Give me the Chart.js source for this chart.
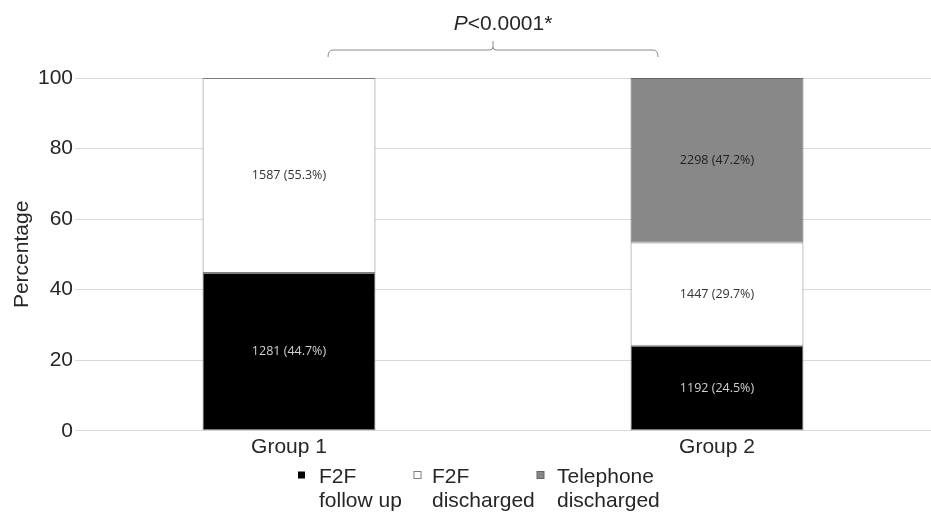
<!DOCTYPE html>
<html>
<head>
<meta charset="utf-8">
<script src="https://cdn.jsdelivr.net/npm/chart.js@4.4.0/dist/chart.umd.min.js"></script>
<style>
  html, body { margin: 0; padding: 0; background: #fff; }
  #wrap { width: 931px; height: 512px; position: relative; }
</style>
</head>
<body>
<div id="wrap"><canvas id="chart"></canvas></div>
<script>
// data
const groups = ['Group 1', 'Group 2'];
const seriesNames = ['F2F follow up', 'F2F discharged', 'Telephone discharged'];
const legendLines = [['F2F', 'follow up'], ['F2F', 'discharged'], ['Telephone', 'discharged']];
const f2fFollowUp = [44.7, 24.1];
const f2fDischarged = [55.3, 29.3];
const telephoneDischarged = [null, 46.6];
const f2fFollowUpLabels = ['1281 (44.7%)', '1192 (24.5%)'];
const f2fDischargedLabels = ['1587 (55.3%)', '1447 (29.7%)'];
const telephoneLabels = ['', '2298 (47.2%)'];
const yTicks = [0, 20, 40, 60, 80, 100];
const pValueItalic = 'P';
const pValueRest = '<0.0001*';

const FONT = "'Liberation Sans', Arial, sans-serif";
const TEXT = '#262626';

const fills = ['#000000', '#ffffff', '#888888'];
const borders = ['#7f7f7f', '#7f7f7f', '#666666'];
const labelColors = ['#d0d0d0', '#333333', '#222222'];
const segLabels = [f2fFollowUpLabels, f2fDischargedLabels, telephoneLabels];

// numbers written inside each segment
const segmentLabels = {
  id: 'segmentLabels',
  afterDatasetsDraw(chart) {
    const ctx = chart.ctx;
    ctx.save();
    ctx.font = "12.5px 'Open Sans', sans-serif";
    ctx.textAlign = 'center';
    ctx.textBaseline = 'middle';
    chart.data.datasets.forEach((ds, i) => {
      chart.getDatasetMeta(i).data.forEach((bar, j) => {
        const txt = segLabels[i][j];
        if (!txt) return;
        ctx.fillStyle = labelColors[i];
        ctx.fillText(txt, bar.x, (bar.y + bar.base) / 2);
      });
    });
    ctx.restore();
  }
};

// bracket + p value above the bars
const pBracket = {
  id: 'pBracket',
  afterDraw(chart) {
    const ctx = chart.ctx;
    const l = 328, r = 658, mid = 493, y = 50;
    ctx.save();
    ctx.strokeStyle = '#8c8c8c';
    ctx.lineWidth = 1;
    ctx.beginPath();
    ctx.moveTo(l, 57);
    ctx.quadraticCurveTo(l, y, l + 5, y);
    ctx.lineTo(mid - 3, y);
    ctx.quadraticCurveTo(mid, y, mid, y - 3);
    ctx.lineTo(mid, 41);
    ctx.moveTo(mid, y - 3);
    ctx.quadraticCurveTo(mid, y, mid + 3, y);
    ctx.lineTo(r - 5, y);
    ctx.quadraticCurveTo(r, y, r, 57);
    ctx.stroke();

    ctx.fillStyle = TEXT;
    ctx.textBaseline = 'alphabetic';
    ctx.font = 'italic 21px ' + FONT;
    const w1 = ctx.measureText(pValueItalic).width;
    ctx.font = '21px ' + FONT;
    const w2 = ctx.measureText(pValueRest).width;
    const x0 = 503 - (w1 + w2) / 2;
    ctx.font = 'italic 21px ' + FONT;
    ctx.fillText(pValueItalic, x0, 30);
    ctx.font = '21px ' + FONT;
    ctx.fillText(pValueRest, x0 + w1, 30);
    ctx.restore();
  }
};

// two-line legend under the axis
const splitLegend = {
  id: 'splitLegend',
  afterDraw(chart) {
    const ctx = chart.ctx;
    const boxX = [298, 414, 537];
    const textX = [319, 432, 557];
    ctx.save();
    ctx.font = '21px ' + FONT;
    ctx.textBaseline = 'alphabetic';
    chart.data.datasets.forEach((ds, i) => {
      ctx.fillStyle = ds.backgroundColor;
      ctx.fillRect(boxX[i], 471.5, 7, 7);
      if (i > 0) {
        ctx.strokeStyle = ds.borderColor;
        ctx.lineWidth = 1;
        ctx.strokeRect(boxX[i], 471.5, 7, 7);
      }
      ctx.fillStyle = TEXT;
      legendLines[i].forEach((line, k) => {
        ctx.fillText(line, textX[i], 483 + k * 24);
      });
    });
    ctx.restore();
  }
};

const seriesData = [f2fFollowUp, f2fDischarged, telephoneDischarged];

new Chart(document.getElementById('chart'), {
  type: 'bar',
  data: {
    labels: groups,
    datasets: seriesNames.map((name, i) => ({
      label: name,
      data: seriesData[i],
      backgroundColor: fills[i],
      borderColor: borders[i],
      borderWidth: 1,
      borderSkipped: false,
      barPercentage: 0.404,
      categoryPercentage: 1.0
    }))
  },
  options: {
    responsive: true,
    maintainAspectRatio: false,
    animation: false,
    layout: { padding: { top: 78, right: 0, bottom: 48, left: 0 } },
    plugins: {
      legend: { display: false },
      tooltip: { enabled: false }
    },
    scales: {
      x: {
        stacked: true,
        grid: { display: false, drawTicks: false },
        border: { display: false },
        ticks: { font: { family: FONT, size: 21 }, color: TEXT, padding: 4 }
      },
      y: {
        stacked: true,
        min: 0,
        max: 100,
        afterBuildTicks: (scale) => { scale.ticks = yTicks.map(v => ({ value: v })); },
        afterFit: (scale) => { scale.width = 75; },
        grid: { color: '#d9d9d9', lineWidth: 1, drawTicks: false },
        border: { display: false },
        ticks: { font: { family: FONT, size: 21 }, color: TEXT, padding: 2 },
        title: {
          display: true,
          text: 'Percentage',
          font: { family: FONT, size: 21 },
          color: TEXT,
          padding: { top: 10, bottom: 0 }
        }
      }
    }
  },
  plugins: [segmentLabels, pBracket, splitLegend]
});
</script>
</body>
</html>
